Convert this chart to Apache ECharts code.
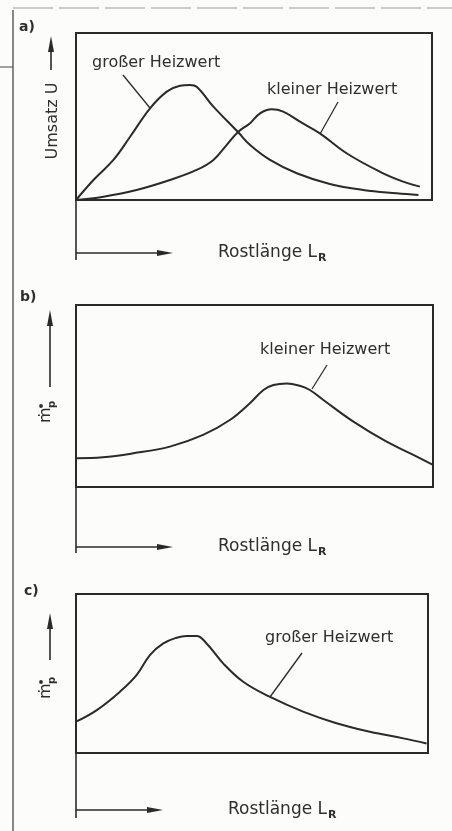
<!DOCTYPE html>
<html><head><meta charset="utf-8">
<script src="https://cdn.jsdelivr.net/npm/echarts@6/dist/echarts.min.js"></script>
<style>html,body{margin:0;padding:0;background:#fcfcfb;}#c{width:452px;height:831px;}</style>
</head><body><div id="c"></div>
<script>
// ---- data (x: relative grate length 0..100, y: relative value 0..100) ----
const aGrossX = [0, 4.9, 10.5, 15.2, 20.8, 25.5, 29.2, 32, 33.9, 38.6, 45.5, 48.9, 54.5, 62, 71.3, 80.7, 90.1, 96.2];
const aGrossY = [0, 12, 24, 37.9, 54.9, 64.9, 68.4, 68.9, 67.8, 55.9, 40.7, 32.9, 24, 16, 9.6, 6, 4, 3];
const aKleinX = [0, 7.7, 17, 26.4, 33.9, 38.6, 42.3, 45.6, 48.9, 51.7, 55, 58.2, 62.9, 68.5, 76, 85.4, 91.9, 96.6];
const aKleinY = [0, 2, 6, 12, 18, 24, 32.9, 40.9, 46, 51.9, 54.3, 52.9, 46.9, 39.9, 28, 16.9, 11, 8];
const bKleinX = [0, 7.5, 16, 26.3, 35.6, 43.1, 48.7, 52.5, 55.3, 59, 62.7, 65.5, 69.3, 77.7, 87, 94.5, 100];
const bKleinY = [15.8, 16.3, 18.5, 22.2, 28.6, 36.8, 46, 53.3, 56, 56.9, 55.6, 53.3, 47.8, 35.9, 24.9, 17.6, 12.1];
const cGrossX = [0, 5.9, 12.5, 17.2, 21, 24.8, 28.6, 31.4, 34.3, 37.1, 41.8, 47.5, 55, 64.5, 74, 83.5, 93, 99.6];
const cGrossY = [19.7, 27, 38.6, 49, 61.6, 68.9, 72.5, 73.6, 73.6, 68.9, 56.4, 44.8, 35.4, 26, 18.7, 13.4, 9.2, 6];
const panelTags = ['a)', 'b)', 'c)'];
const curveLabels = ['großer Heizwert', 'kleiner Heizwert', 'kleiner Heizwert', 'großer Heizwert'];
const xAxisTitle = 'Rostlänge L';
const xAxisSub = 'R';
const yAxisTitleA = 'Umsatz U';

const pairs = (xs, ys) => xs.map((x, i) => [x, ys[i]]);

// ---- layout ----
const INK = '#2a2a2a';
const TXT = '#2e2e2e';
const FONT = '"DejaVu Sans", "Liberation Sans", sans-serif';
const grids = [
  {left: 76, top: 33, width: 356, height: 167},
  {left: 76, top: 305, width: 357, height: 182},
  {left: 76, top: 594, width: 352, height: 159}
];
const gridOpts = grids.map(g => Object.assign({show: true, borderColor: INK, borderWidth: 2, backgroundColor: 'transparent'}, g));
const xAxes = grids.map((g, i) => ({type: 'value', gridIndex: i, min: 0, max: 100, show: false}));
const yAxes = grids.map((g, i) => ({type: 'value', gridIndex: i, min: 0, max: 100, show: false}));

const lineSeries = (data, gi) => ({
  type: 'line', xAxisIndex: gi, yAxisIndex: gi, data: data, smooth: 0.4,
  symbol: 'none', lineStyle: {color: INK, width: 2}, silent: true, animation: false
});

const gfx = [];
function line(x1, y1, x2, y2, w, col, dash) {
  gfx.push({type: 'line', shape: {x1, y1, x2, y2}, style: {stroke: col || INK, lineWidth: w || 1.5, lineDash: dash || null}, silent: true});
}
function text(x, y, t, opt) {
  gfx.push(Object.assign({type: 'text', x, y, silent: true, style: Object.assign({text: t, fill: TXT, font: '16px ' + FONT, textVerticalAlign: 'middle'}, opt && opt.style || {})}, opt && opt.el || {}));
}
function hArrow(x1, x2, y) {
  line(x1, y, x2 - 12, y, 1.6);
  gfx.push({type: 'polygon', shape: {points: [[x2 - 16, y - 3], [x2, y], [x2 - 16, y + 3]]}, style: {fill: INK}, silent: true});
}
function vArrow(x, y1, y2) { // y1 bottom, y2 tip
  line(x, y1, x, y2 + 12, 1.6);
  gfx.push({type: 'polygon', shape: {points: [[x - 3, y2 + 16], [x, y2], [x + 3, y2 + 16]]}, style: {fill: INK}, silent: true});
}
function xTitle(x, y) {
  gfx.push({type: 'text', x, y, silent: true, style: {text: '{a|' + xAxisTitle + '}{b|' + xAxisSub + '}', fill: TXT, textVerticalAlign: 'middle',
    rich: {a: {fontSize: 17, fontFamily: FONT, fill: TXT}, b: {fontSize: 11, fontWeight: 'bold', fontFamily: FONT, fill: TXT, padding: [10, 0, 0, 1]}}}});
}
function mpSymbol(cx, cy) {
  gfx.push({type: 'group', x: cx, y: cy, rotation: Math.PI / 2, silent: true, children: [
    {type: 'text', x: -9, y: 0, style: {text: 'ṁ', font: '16px ' + FONT, fill: TXT, textVerticalAlign: 'middle'}},
    {type: 'text', x: 6, y: 6, style: {text: 'p', font: 'bold 10px ' + FONT, fill: TXT, textVerticalAlign: 'middle'}},
    {type: 'circle', shape: {cx: 8, cy: -5, r: 1.9}, style: {fill: TXT}}
  ]});
}

// page frame (scan edges)
line(13, 10, 13, 831, 1.4, '#555');
line(13, 8, 452, 8, 1, '#999', [40, 6]);
line(0, 67, 13, 67, 1.2, '#666');

// panel tags
text(19, 27, panelTags[0], {style: {font: 'bold 14px ' + FONT}});
text(20, 297, panelTags[1], {style: {font: 'bold 14px ' + FONT}});
text(24, 591, panelTags[2], {style: {font: 'bold 14px ' + FONT}});

// x axis extensions + arrows + titles
line(76, 200, 76, 260, 1.6); hArrow(76, 173, 253); xTitle(218, 253);
line(76, 487, 76, 553, 1.6); hArrow(76, 173, 547); xTitle(218, 547);
line(76, 753, 76, 818, 1.6); hArrow(76, 163, 810); xTitle(228, 810);

// y axis titles
vArrow(51, 70, 36);
gfx.push({type: 'text', x: 53, y: 121, rotation: Math.PI / 2, silent: true, style: {text: yAxisTitleA, font: '16px ' + FONT, fill: TXT, textAlign: 'center', textVerticalAlign: 'middle'}});
vArrow(50, 387, 310); mpSymbol(46, 414);
vArrow(50, 660, 613); mpSymbol(46, 690);

// curve labels + leaders
text(92, 63, curveLabels[0]); line(123, 75, 150, 108, 1.3);
text(267, 90, curveLabels[1]); line(338, 102, 320, 134, 1.3);
text(260, 350, curveLabels[2]); line(327, 365, 312, 389, 1.3);
text(265, 638, curveLabels[3]); line(302, 653, 270, 697, 1.3);

const chart = echarts.init(document.getElementById('c'), null, {renderer: 'canvas'});
chart.setOption({
  animation: false,
  backgroundColor: '#fcfcfb',
  grid: gridOpts, xAxis: xAxes, yAxis: yAxes,
  series: [
    lineSeries(pairs(aGrossX, aGrossY), 0),
    lineSeries(pairs(aKleinX, aKleinY), 0),
    lineSeries(pairs(bKleinX, bKleinY), 1),
    lineSeries(pairs(cGrossX, cGrossY), 2)
  ],
  graphic: gfx
});
</script></body></html>
